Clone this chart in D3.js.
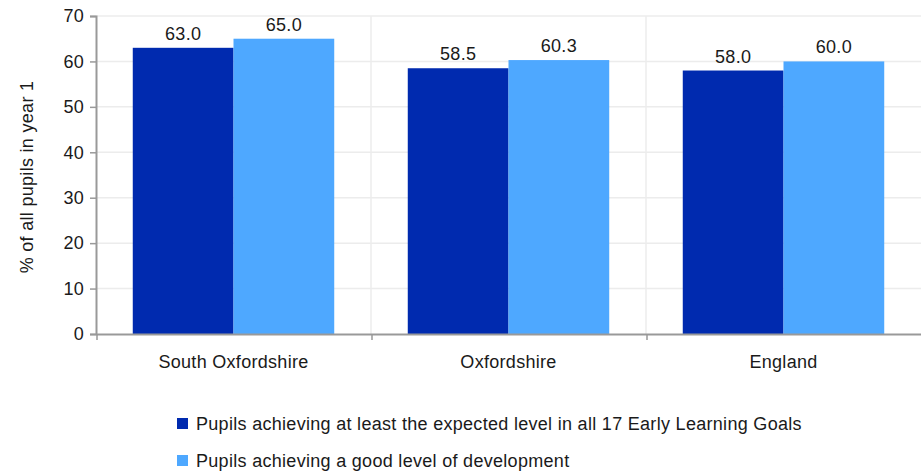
<!DOCTYPE html>
<html>
<head>
<meta charset="utf-8">
<script src="https://cdn.jsdelivr.net/npm/d3@7"></script>
<style>
	body { margin: 0; background: #fff; }
	svg text { font-family: "Liberation Sans", Arial, sans-serif; fill: #1a1a1a; letter-spacing: 0.3px; }
</style>
</head>
<body>
<svg id="chart" width="921" height="473"></svg>
<script>
// chart values
const categories = ['South Oxfordshire', 'Oxfordshire', 'England'];
const seriesNames = [
	'Pupils achieving at least the expected level in all 17 Early Learning Goals',
	'Pupils achieving a good level of development'
];
const expectedLevel = [63.0, 58.5, 58.0];
const goodLevel = [65.0, 60.3, 60.0];
const yTicks = [0, 10, 20, 30, 40, 50, 60, 70];
const colors = ['#002aaf', '#4ea8ff'];

const series = [expectedLevel, goodLevel];
const font = '"Liberation Sans", Arial, sans-serif';

const svg = d3.select('#chart');
const margin = {top: 16, right: 0, bottom: 139, left: 96};
const width = 921 - margin.left - margin.right;
const height = 473 - margin.top - margin.bottom;

const g = svg.append('g').attr('transform', `translate(${margin.left},${margin.top})`);

const x = d3.scaleBand().domain(categories).range([0, width]).paddingInner(0).paddingOuter(0);
const xSub = d3.scaleBand().domain(d3.range(series.length)).range([0, x.bandwidth()]).paddingOuter(0.365);
const y = d3.scaleLinear().domain([0, 70]).range([height, 0]);

// horizontal grid
g.append('g').selectAll('line').data(yTicks.slice(1)).join('line')
	.attr('x1', 0).attr('x2', width)
	.attr('y1', d => y(d)).attr('y2', d => y(d))
	.attr('stroke', '#ececec').attr('stroke-width', 1.5);

// vertical grid at category boundaries
g.append('g').selectAll('line').data(categories.slice(1)).join('line')
	.attr('x1', d => x(d)).attr('x2', d => x(d))
	.attr('y1', 0).attr('y2', height)
	.attr('stroke', '#ececec').attr('stroke-width', 1.5);

// bars
const groups = g.append('g').selectAll('g').data(categories).join('g')
	.attr('transform', d => `translate(${x(d)},0)`);

groups.selectAll('rect')
	.data((d, i) => series.map((s, k) => ({k, v: s[i]})))
	.join('rect')
	.attr('x', d => xSub(d.k))
	.attr('width', xSub.bandwidth())
	.attr('y', d => y(d.v))
	.attr('height', d => height - y(d.v))
	.attr('fill', d => colors[d.k]);

groups.selectAll('text.val')
	.data((d, i) => series.map((s, k) => ({k, v: s[i]})))
	.join('text')
	.attr('class', 'val')
	.attr('x', d => xSub(d.k) + xSub.bandwidth() / 2)
	.attr('y', d => y(d.v) - 8)
	.attr('text-anchor', 'middle')
	.attr('font-size', 18)
	.text(d => d.v.toFixed(1));

// y axis
const yAxis = g.append('g')
	.call(d3.axisLeft(y).tickValues(yTicks).tickSize(6).tickPadding(6));
yAxis.select('.domain').attr('stroke', '#999').attr('stroke-width', 2);
yAxis.selectAll('.tick line').attr('stroke', '#999').attr('stroke-width', 1.5);
yAxis.selectAll('.tick text').attr('font-size', 18).attr('fill', '#1a1a1a')
	.attr('font-family', font);

// x axis
const xAxis = g.append('g').attr('transform', `translate(0,${height})`)
	.call(d3.axisBottom(x).tickSize(0).tickPadding(21));
xAxis.select('.domain').attr('stroke', '#999').attr('stroke-width', 2);
xAxis.selectAll('.tick text').attr('font-size', 18).attr('fill', '#1a1a1a')
	.attr('font-family', font);

// boundary ticks under the x axis
g.append('g').selectAll('line').data(categories).join('line')
	.attr('x1', d => x(d) + 1).attr('x2', d => x(d) + 1)
	.attr('y1', height).attr('y2', height + 6)
	.attr('stroke', '#999').attr('stroke-width', 1.5);

// y axis title
svg.append('text')
	.attr('transform', `translate(33,${margin.top + height / 2 + 2}) rotate(-90)`)
	.attr('text-anchor', 'middle')
	.attr('font-size', 18)
	.text('% of all pupils in year 1');

// legend
const legend = svg.append('g').attr('transform', 'translate(177,418)');
const item = legend.selectAll('g').data(seriesNames).join('g')
	.attr('transform', (d, i) => `translate(0,${i * 37})`);
item.append('rect').attr('width', 11).attr('height', 11)
	.attr('fill', (d, i) => colors[i]);
item.append('text').attr('x', 19).attr('y', 12).attr('font-size', 18).text(d => d);
</script>
</body>
</html>
